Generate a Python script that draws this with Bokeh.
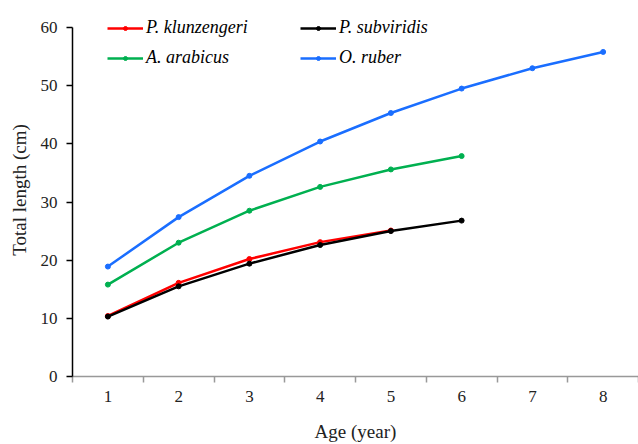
from bokeh.plotting import figure
from bokeh.models import Range1d, FixedTicker, Legend, LegendItem
from bokeh.embed import file_html
from bokeh.resources import INLINE

ages_pk = [1, 2, 3, 4, 5]
len_pk = [10.4, 16.1, 20.2, 23.1, 25.1]
ages_ps = [1, 2, 3, 4, 5, 6]
len_ps = [10.3, 15.5, 19.4, 22.6, 25.0, 26.8]
ages_aa = [1, 2, 3, 4, 5, 6]
len_aa = [15.8, 23.0, 28.5, 32.6, 35.6, 37.9]
ages_or = [1, 2, 3, 4, 5, 6, 7, 8]
len_or = [18.9, 27.4, 34.5, 40.4, 45.3, 49.5, 53.0, 55.8]

names = ["P. klunzengeri", "P. subviridis", "A. arabicus", "O. ruber"]
colors = ["#ff0000", "#000000", "#00b050", "#1a6eff"]
series = [(ages_pk, len_pk), (ages_ps, len_ps), (ages_aa, len_aa), (ages_or, len_or)]

FONT = "Liberation Serif"

# frame extends above 60 so the legend (which sits above the top tick) is not clipped
p = figure(width=638, height=444, output_backend="svg", toolbar_location=None,
           x_range=Range1d(0.5, 8.5), y_range=Range1d(0, 60 * 373 / 349),
           min_border_left=72, min_border_top=3, min_border_bottom=68, min_border_right=0)
p.outline_line_color = None
p.xgrid.grid_line_color = None
p.ygrid.grid_line_color = None

items = []
for (xs, ys), nm, c in zip(series, names, colors):
    r1 = p.line(xs, ys, line_color=c, line_width=2.5)
    r2 = p.scatter(xs, ys, marker="circle", size=5, fill_color=c, line_color=c)
    items.append(LegendItem(label=nm, renderers=[r1, r2]))

# legend fills column by column: col1 = P.k, A.a ; col2 = P.s, O.r
ordered = [items[0], items[2], items[1], items[3]]
legend = Legend(items=ordered, ncols=2, location=(35, 308),
                glyph_width=36, glyph_height=10, label_height=20, label_width=145,
                label_standoff=3, spacing=9, padding=0, margin=0,
                border_line_color=None, background_fill_alpha=0,
                label_text_font=FONT, label_text_font_style="italic",
                label_text_font_size="18px", label_text_color="#000000")
p.add_layout(legend, "center")

# x axis
p.xaxis.ticker = FixedTicker(ticks=[1, 2, 3, 4, 5, 6, 7, 8],
                             minor_ticks=[0.5, 1.5, 2.5, 3.5, 4.5, 5.5, 6.5, 7.5, 8.5])
p.xaxis.major_tick_out = 0
p.xaxis.major_tick_in = 0
p.xaxis.minor_tick_out = 6
p.xaxis.minor_tick_in = 0
p.xaxis.minor_tick_line_color = "#999999"
p.xaxis.minor_tick_line_width = 1.5
p.xaxis.axis_line_color = "#999999"
p.xaxis.axis_line_width = 1.5
p.xaxis.major_label_standoff = 8
p.xaxis.major_label_text_font = FONT
p.xaxis.major_label_text_font_size = "17px"
p.xaxis.major_label_text_color = "#222222"
p.xaxis.axis_label = "Age (year)"
p.xaxis.axis_label_text_font = FONT
p.xaxis.axis_label_text_font_style = "normal"
p.xaxis.axis_label_text_font_size = "19px"
p.xaxis.axis_label_text_color = "#222222"
p.xaxis.axis_label_standoff = 16

# y axis
p.yaxis.bounds = (0, 60)
p.yaxis.ticker = FixedTicker(ticks=[0, 10, 20, 30, 40, 50, 60])
p.yaxis.major_tick_out = 6
p.yaxis.major_tick_in = 0
p.yaxis.major_tick_line_width = 1.5
p.yaxis.axis_line_width = 1.5
p.yaxis.axis_line_color = "#000000"
p.yaxis.major_tick_line_color = "#000000"
p.yaxis.major_label_standoff = 9
p.yaxis.major_label_text_font = FONT
p.yaxis.major_label_text_font_size = "17px"
p.yaxis.major_label_text_color = "#222222"
p.yaxis.axis_label = "Total length (cm)"
p.yaxis.axis_label_text_font = FONT
p.yaxis.axis_label_text_font_style = "normal"
p.yaxis.axis_label_text_font_size = "19px"
p.yaxis.axis_label_text_color = "#222222"
p.yaxis.axis_label_standoff = 8

open("out.html", "w").write(file_html(p, INLINE))
